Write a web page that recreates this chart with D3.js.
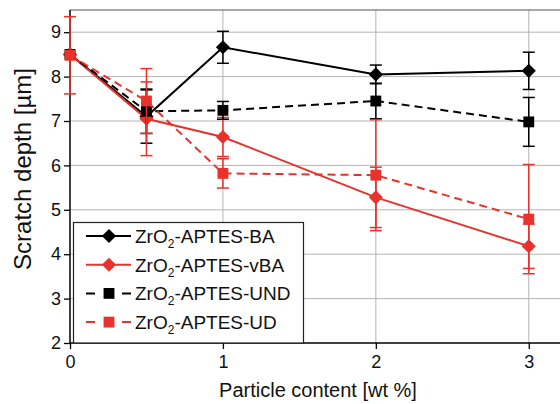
<!DOCTYPE html>
<html>
<head>
<meta charset="utf-8">
<script src="https://cdn.jsdelivr.net/npm/d3@7"></script>
<style>
  body { margin: 0; background: #fff; }
  svg { display: block; font-family: "Liberation Sans", Arial, sans-serif; }
</style>
</head>
<body>
<svg id="chart"></svg>
<script>
const width = 560;
const height = 404;

// data
const xValues = [0, 0.5, 1, 2, 3];
const baY = [8.5, 7.1, 8.66, 8.05, 8.13];
const baErr = [0, 0.6, 0.36, 0.21, 0.42];
const vbaY = [8.5, 7.05, 6.64, 5.28, 4.18];
const vbaErr = [0, 0.83, 0.44, 0.68, 0.5];
const undY = [8.5, 7.22, 7.24, 7.45, 6.98];
const undErr = [0, 0.5, 0.2, 0.4, 0.55];
const udY = [8.48, 7.45, 5.82, 5.78, 4.79];
const udErr = [0.87, 0.73, 0.33, 1.25, 1.23];
const seriesNames = ["BA", "vBA", "UND", "UD"];
const xTicks = [0, 1, 2, 3];
const yTicks = [2, 3, 4, 5, 6, 7, 8, 9];

const red = "#e8322b";
const series = [
  { name: seriesNames[0], y: baY, err: baErr, color: "#000", dash: null, shape: "diamond" },
  { name: seriesNames[1], y: vbaY, err: vbaErr, color: red, dash: null, shape: "diamond" },
  { name: seriesNames[2], y: undY, err: undErr, color: "#000", dash: "8,5", shape: "square" },
  { name: seriesNames[3], y: udY, err: udErr, color: red, dash: "8,5", shape: "square" }
];

const margin = { left: 70, top: 10, bottom: 343 };

const svg = d3.select("#chart").attr("width", width).attr("height", height);

const x = d3.scaleLinear().domain([0, 3.25]).range([margin.left, 567]);
const y = d3.scaleLinear().domain([2, 9.5]).range([margin.bottom, margin.top]);

// grid
svg.append("g")
  .selectAll("line.h")
  .data(yTicks.slice(1))
  .enter()
  .append("line")
  .attr("x1", margin.left)
  .attr("x2", width)
  .attr("y1", (d) => y(d))
  .attr("y2", (d) => y(d))
  .attr("stroke", "#b5b5b5")
  .attr("stroke-width", 1);

svg.append("g")
  .selectAll("line.v")
  .data(xTicks.slice(1))
  .enter()
  .append("line")
  .attr("x1", (d) => x(d))
  .attr("x2", (d) => x(d))
  .attr("y1", margin.top)
  .attr("y2", margin.bottom)
  .attr("stroke", "#b5b5b5")
  .attr("stroke-width", 1);

// top frame
svg.append("line")
  .attr("x1", margin.left).attr("x2", width)
  .attr("y1", margin.top).attr("y2", margin.top)
  .attr("stroke", "#555").attr("stroke-width", 1.2);

// axes
const yAxis = svg.append("g")
  .attr("transform", `translate(${margin.left},0)`)
  .call(d3.axisLeft(y).tickValues(yTicks).tickSize(6).tickPadding(3).tickFormat(d3.format("d")));
const xAxis = svg.append("g")
  .attr("transform", `translate(0,${margin.bottom})`)
  .call(d3.axisBottom(x).tickValues(xTicks).tickSize(6).tickPadding(6).tickFormat(d3.format("d")));

[yAxis, xAxis].forEach((a) => {
  a.select(".domain").attr("stroke", "#000").attr("stroke-width", 1.5);
  a.selectAll(".tick line").attr("stroke", "#000").attr("stroke-width", 1.3);
  a.selectAll(".tick text")
    .attr("fill", "#111")
    .attr("font-size", "18px")
    .attr("font-family", "Liberation Sans, Arial, sans-serif");
});
xAxis.select(".domain").attr("d", `M${margin.left},0H${width}`);
yAxis.select(".domain").attr("d", `M0,${margin.bottom}V${margin.top}`);

// axis titles
svg.append("text")
  .attr("x", 318)
  .attr("y", 397)
  .attr("text-anchor", "middle")
  .attr("font-size", "20px")
  .attr("fill", "#111")
  .text("Particle content [wt %]");

svg.append("text")
  .attr("transform", `translate(31,169) rotate(-90)`)
  .attr("text-anchor", "middle")
  .attr("font-size", "24px")
  .attr("fill", "#111")
  .text("Scratch depth [µm]");

const plot = svg.append("g");

const line = d3.line()
  .x((d) => x(d[0]))
  .y((d) => y(d[1]));

const symbolFor = (shape) =>
  shape === "diamond"
    ? d3.symbol().type(d3.symbolSquare).size(100)
    : d3.symbol().type(d3.symbolSquare).size(118);

series.forEach((s) => {
  const pts = xValues.map((xv, i) => [xv, s.y[i], s.err[i]]);
  const g = plot.append("g");

  g.append("path")
    .datum(pts)
    .attr("d", line)
    .attr("fill", "none")
    .attr("stroke", s.color)
    .attr("stroke-width", 2)
    .attr("stroke-dasharray", s.dash);

  const eb = g.selectAll("g.err")
    .data(pts.filter((p) => p[2] > 0))
    .enter()
    .append("g")
    .attr("stroke", s.color)
    .attr("stroke-width", 1.5);
  eb.append("line")
    .attr("x1", (d) => x(d[0])).attr("x2", (d) => x(d[0]))
    .attr("y1", (d) => y(d[1] + d[2])).attr("y2", (d) => y(d[1] - d[2]));
  eb.append("line")
    .attr("x1", (d) => x(d[0]) - 6).attr("x2", (d) => x(d[0]) + 6)
    .attr("y1", (d) => y(d[1] + d[2])).attr("y2", (d) => y(d[1] + d[2]));
  eb.append("line")
    .attr("x1", (d) => x(d[0]) - 6).attr("x2", (d) => x(d[0]) + 6)
    .attr("y1", (d) => y(d[1] - d[2])).attr("y2", (d) => y(d[1] - d[2]));

  g.selectAll("path.m")
    .data(pts)
    .enter()
    .append("path")
    .attr("d", symbolFor(s.shape))
    .attr("transform", (d) =>
      `translate(${x(d[0])},${y(d[1])})` + (s.shape === "diamond" ? " rotate(45)" : ""))
    .attr("fill", s.color);
});

// legend
const legend = svg.append("g");
legend.append("rect")
  .attr("x", 73.5)
  .attr("y", 222.5)
  .attr("width", 230)
  .attr("height", margin.bottom - 222.5)
  .attr("fill", "#fff")
  .attr("stroke", "#222")
  .attr("stroke-width", 1.2);

const items = legend.selectAll("g.item")
  .data(series)
  .enter()
  .append("g")
  .attr("transform", (d, i) => `translate(0,${236 + i * 28.7})`);

items.append("line")
  .attr("x1", 86)
  .attr("x2", 131)
  .attr("stroke", (d) => d.color)
  .attr("stroke-width", 2)
  .attr("stroke-dasharray", (d) => (d.dash ? "9,27" : null));

items.append("path")
  .attr("d", (d) => symbolFor(d.shape)())
  .attr("transform", (d) => "translate(109,0)" + (d.shape === "diamond" ? " rotate(45)" : ""))
  .attr("fill", (d) => d.color);

const label = items.append("text")
  .attr("x", 135)
  .attr("y", 7)
  .attr("font-size", "19px")
  .attr("fill", "#111");
label.append("tspan").text("ZrO");
label.append("tspan").attr("font-size", "12px").attr("dy", 5).text("2");
label.append("tspan").attr("dy", -5).text((d) => "-APTES-" + d.name);
</script>
</body>
</html>
